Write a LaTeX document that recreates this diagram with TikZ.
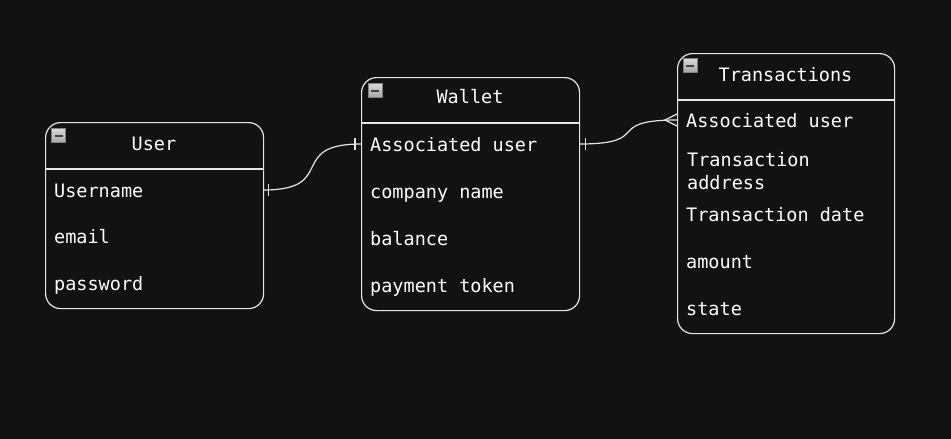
\documentclass[tikz,border=0pt]{standalone}
\usepackage{fontspec}
\setmonofont{DejaVu Sans Mono}
\usetikzlibrary{calc}

\definecolor{bgdark}{HTML}{121212}
\definecolor{edgegray}{HTML}{E6E6E6}
\newcommand{\erfont}{\ttfamily\fontsize{18.5}{23}\selectfont}

\tikzset{
  entity/.style={draw=edgegray, fill=bgdark, line width=1.2pt, rounded corners=15pt,
    anchor=north west, inner sep=0pt},
  title/.style={font=\erfont, text=white, anchor=base, inner sep=0pt},
  row/.style={font=\erfont, text=white, inner xsep=9pt, inner ysep=0pt, text width=#1,
    align=flush left, anchor=base west, text height=14pt, text depth=0pt,
    execute at begin node={\spaceskip=0.602em\relax}},
  icon/.style={draw=gray, top color=gray!30, bottom color=gray!70, minimum size=14pt,
    inner sep=0pt, line width=0.6pt,
    path picture={\draw[black!75, line width=2pt]
      ([xshift=3pt]path picture bounding box.west) -- ([xshift=-3pt]path picture bounding box.east);}},
  rel/.style={draw=edgegray, line width=1.2pt},
}

\begin{document}
\begin{tikzpicture}[x=1pt, y=-1pt]
\path[use as bounding box, fill=bgdark] (0,0) rectangle (951,439);

% User
\node[entity, minimum width=218pt, minimum height=186pt] (user) at (45,122) {};
\draw[rel] ([yshift=-47pt]user.north west) -- ([yshift=-47pt]user.north east);
\node[icon] (uicon) at ([shift={(13.5pt,-13.5pt)}]user.north west) {};
\node[title] (utitle) at (154,150) {User};
\node[row=200pt] (urow1) at (45,197) {Username};
\node[row=200pt] (urow2) at (45,243) {email};
\node[row=200pt] (urow3) at (45,290) {password};

% Wallet
\node[entity, minimum width=218pt, minimum height=233pt] (wallet) at (361,77) {};
\draw[rel] ([yshift=-46pt]wallet.north west) -- ([yshift=-46pt]wallet.north east);
\node[icon] (wicon) at ([shift={(14pt,-13.5pt)}]wallet.north west) {};
\node[title] (wtitle) at (470,103) {Wallet};
\node[row=200pt] (wrow1) at (361,151) {Associated user};
\node[row=200pt] (wrow2) at (361,198) {company name};
\node[row=200pt] (wrow3) at (361,245) {balance};
\node[row=200pt] (wrow4) at (361,292) {payment token};

% Transactions
\node[entity, minimum width=217pt, minimum height=280pt] (trans) at (677,53) {};
\draw[rel] ([yshift=-47pt]trans.north west) -- ([yshift=-47pt]trans.north east);
\node[icon] (ticon) at ([shift={(13pt,-12.5pt)}]trans.north west) {};
\node[title] (ttitle) at (785.5,81) {Transactions};
\node[row=199pt] (trow1) at (677,127) {Associated user};
\node[font=\erfont, text=white, inner xsep=10pt, inner ysep=0pt, text width=197pt,
  align=flush left, anchor=base west] (trow2) at (677,166) {Transaction\\address};
\node[row=199pt] (trow3) at (677,221) {Transaction date};
\node[row=199pt] (trow4) at (677,268) {amount};
\node[row=199pt] (trow5) at (677,315) {state};

% relations
\draw[rel] (urow1.east) .. controls +(75,0) and +(-75,0) .. (wrow1.west);
\draw[rel] ($(urow1.east)+(5,-6)$) -- ++(0,12);
\draw[rel] ($(wrow1.west)+(-6,-6)$) -- ++(0,12);

\draw[rel] (wrow1.east) .. controls +(75,0) and +(-75,0) .. (trow1.west);
\draw[rel] ($(wrow1.east)+(6,-6)$) -- ++(0,12);
\draw[rel] ($(trow1.west)+(0,-6)$) -- ($(trow1.west)+(-12,0)$) -- ($(trow1.west)+(0,6)$);
\end{tikzpicture}
\end{document}
